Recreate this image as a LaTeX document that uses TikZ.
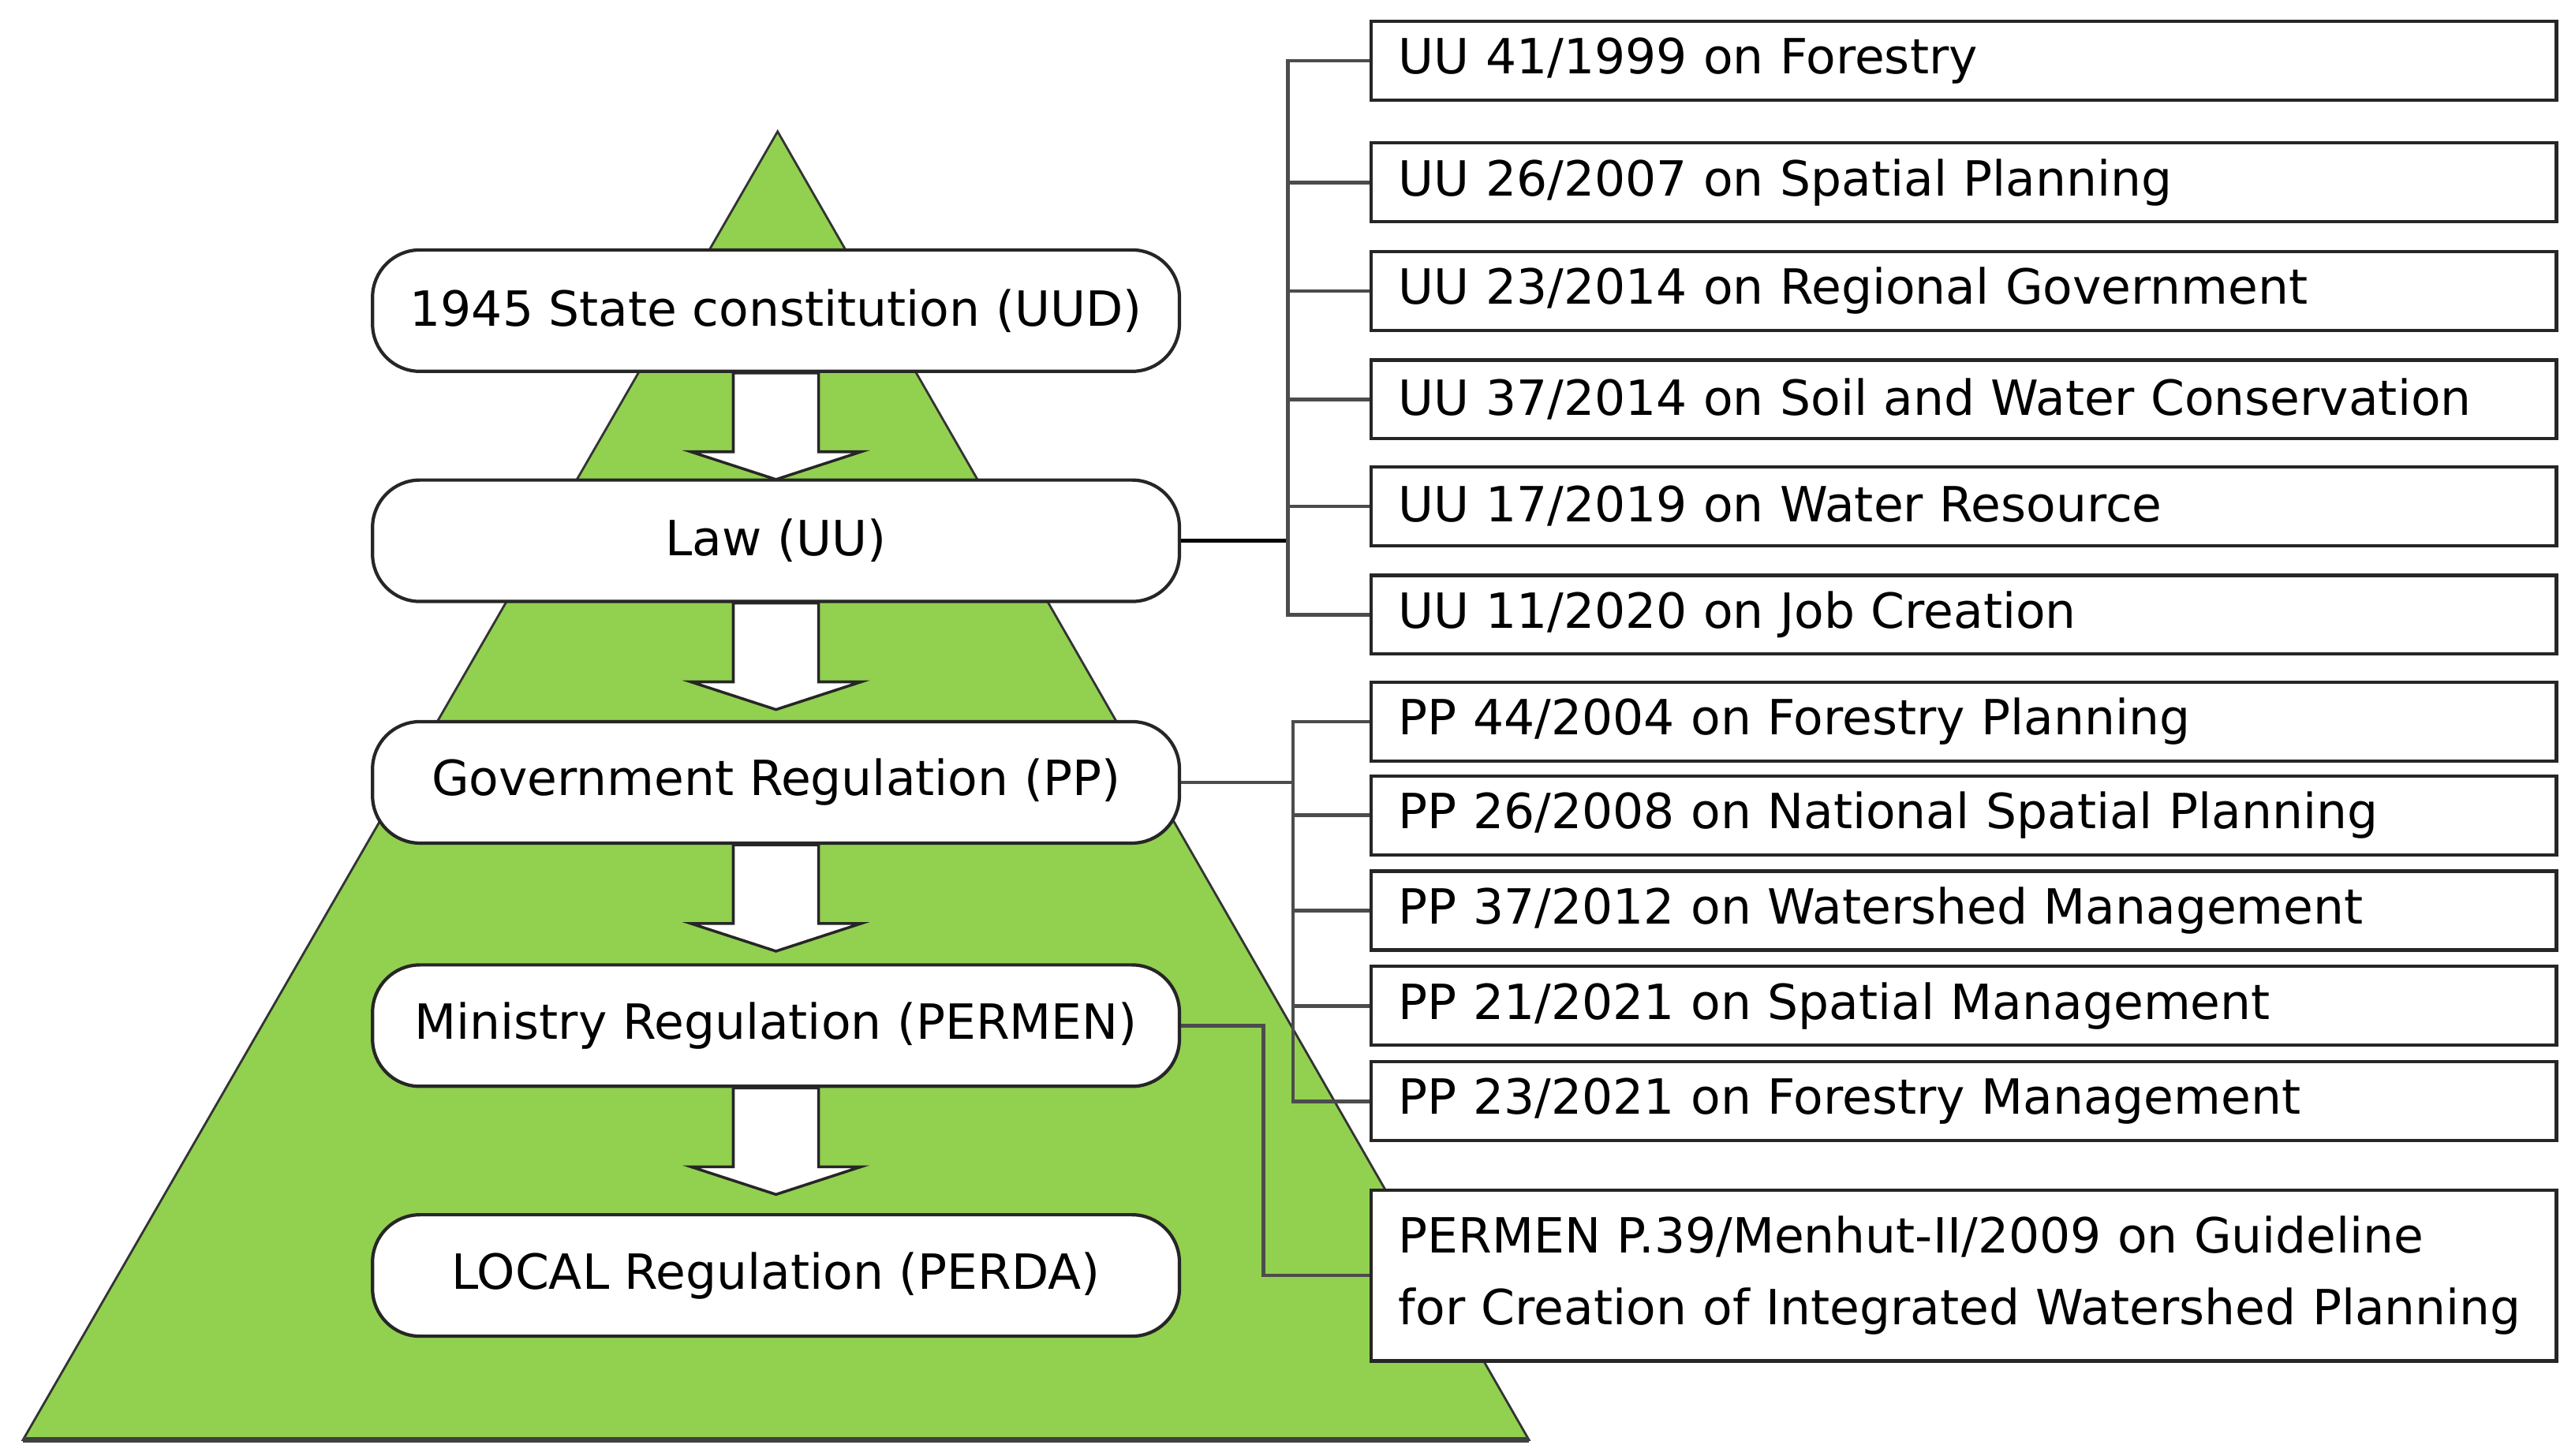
\documentclass[tikz,border=0pt]{standalone}
\usepackage{fontspec}
\setmainfont{DejaVu Sans}
\usetikzlibrary{calc}
\definecolor{pyrgreen}{RGB}{146,208,80}

\begin{document}
\begin{tikzpicture}[x=0.02084cm,y=-0.02084cm,
    level/.style={draw=black!85, line width=1.2pt, fill=white, rounded corners=0.6cm,
      minimum width=10.23cm, minimum height=1.54cm, font=\fontsize{17.5pt}{26pt}\selectfont},
    act/.style={draw=black!85, line width=1.2pt, fill=white, text width=14.33cm,
      inner xsep=0.35cm, minimum height=1cm, align=left, font=\fontsize{17.5pt}{26pt}\selectfont},
    link/.style={draw=black!70, line width=1.3pt},
    downarrow/.style={draw=black!85, line width=1pt, fill=white}]
\useasboundingbox (0,0) rectangle (1566.3,885.8);
\def\pyramid{(473,80) -- (930,876) -- (14,876) -- cycle}
\filldraw[fill=pyrgreen, draw=black!80, line width=0.8pt] \pyramid;
\draw[black!75, line width=2pt] (14,876) -- (930,876);

% hierarchy of regulations
\node[level] (uud) at (472,189) {1945 State constitution (UUD)};
\node[level] (uu) at (472,329) {Law (UU)};
\node[level] (pp) at (472,476) {Government Regulation (PP)};
\node[level] (permen) at (472,624) {Ministry Regulation (PERMEN)};
\node[level] (perda) at (472,776) {LOCAL Regulation (PERDA)};

% block arrows between the levels
\foreach \a/\b in {uud/uu,uu/pp,pp/permen,permen/perda}
  \filldraw[downarrow] ($(\a.south)+(-15.4pt,0)$) -- ++(0,-28.4pt) -- ++(-15.3pt,0)
    -- ++(30.7pt,-10pt) -- ++(30.7pt,10pt) -- ++(-15.3pt,0) -- ++(0,28.4pt) -- cycle;

% laws
\node[act] (u1) at (1194.5,37) {UU 41/1999 on Forestry};
\node[act] (u2) at (1194.5,111) {UU 26/2007 on Spatial Planning};
\node[act] (u3) at (1194.5,177) {UU 23/2014 on Regional Government};
\node[act] (u4) at (1194.5,243) {UU 37/2014 on Soil and Water Conservation};
\node[act] (u5) at (1194.5,308) {UU 17/2019 on Water Resource};
\node[act] (u6) at (1194.5,374) {UU 11/2020 on Job Creation};

% government regulations
\node[act] (p1) at (1194.5,439) {PP 44/2004 on Forestry Planning};
\node[act] (p2) at (1194.5,496) {PP 26/2008 on National Spatial Planning};
\node[act] (p3) at (1194.5,554) {PP 37/2012 on Watershed Management};
\node[act] (p4) at (1194.5,612) {PP 21/2021 on Spatial Management};
\node[act] (p5) at (1194.5,670) {PP 23/2021 on Forestry Management};

% ministry regulation
\node[act, minimum height=2.17cm] (pm) at (1194.5,776)
  {PERMEN P.39/Menhut-II/2009 on Guideline\\for Creation of Integrated Watershed Planning};

% connectors
\coordinate (ubus) at ($(uu.east)+(65,0)$);
\draw[link, black] (uu.east) -- (ubus);
\foreach \n in {1,...,6}
  \draw[link] (ubus) |- (u\n.west);
\coordinate (pbus) at ($(pp.east)+(68,0)$);
\draw[link] (pp.east) -- (pbus);
\foreach \n in {1,...,5}
  \draw[link] (pbus) |- (p\n.west);
\draw[link] (permen.east) -- ++(50,0) |- (pm.west);
\end{tikzpicture}
\end{document}
